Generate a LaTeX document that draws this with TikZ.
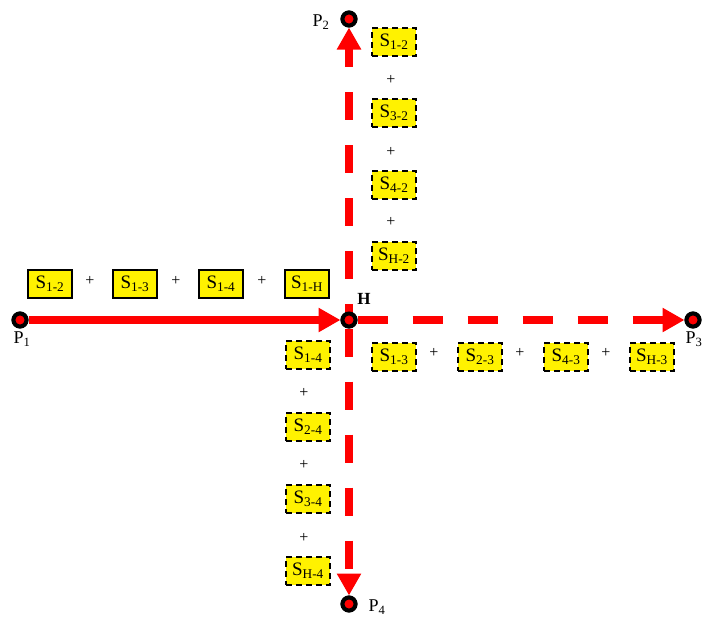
\documentclass[tikz,border=0pt]{standalone}
\usepackage{fontspec}
\setmainfont{Liberation Serif}
\usetikzlibrary{arrows.meta}
\tikzset{
  pt/.style={circle, draw=black, fill=red, line width=4pt, minimum size=13pt, inner sep=0pt},
  term/.style={draw=black, fill=yellow, line width=2.2pt, minimum width=44pt, minimum height=28pt, inner sep=0pt, font=\fontsize{19}{19}\selectfont},
  termd/.style={term, dash pattern=on 6pt off 4pt},
  plus/.style={inner sep=0pt, font=\fontsize{16}{16}\selectfont},
  lbl/.style={inner sep=0pt, font=\fontsize{18}{18}\selectfont},
  flow/.style={red, line width=7.5pt, -{Triangle[length=22pt, width=23pt]}},
  flowh/.style={flow, dash pattern=on 30pt off 25pt},
  flowv/.style={flow, dash pattern=on 28pt off 25pt},
}
\newcommand{\Sx}[1]{S\textsubscript{#1}}
\begin{document}
\begin{tikzpicture}[x=1pt, y=-1pt]
\path[use as bounding box, fill=white] (0,0) rectangle (702,619);

% junction and end points
\node[pt] (H)  at (349,320) {};
\node[pt] (P1) at (20,320) {};
\node[pt] (P2) at (349,19) {};
\node[pt] (P3) at (693,320) {};
\node[pt] (P4) at (349,604) {};

% flows
\draw[flow]  (P1) -- (H);
\draw[flowv, dash phase=20pt] (H) -- (P2);
\draw[flowh] (H) -- (P3);
\draw[flowv] (H) -- (P4);

% points again, on top of the shafts
\foreach \p in {H,P1,P2,P3,P4} \node[pt] at (\p) {};

% point labels
\node[lbl] (lP1) at (22,339) {P\textsubscript{1}};
\node[lbl] (lP2) at (321,22) {P\textsubscript{2}};
\node[lbl] (lP3) at (694,339) {P\textsubscript{3}};
\node[lbl] (lP4) at (377,607) {P\textsubscript{4}};
\node[lbl, font=\fontsize{17}{17}\selectfont\bfseries] (lH) at (364,299) {H};

% incoming terms along P1 -> H
\node[term] (a1) at (50,284)  {\Sx{1-2}};
\node[plus] (ap1) at (90,281) {+};
\node[term] (a2) at (135,284) {\Sx{1-3}};
\node[plus] (ap2) at (176,281) {+};
\node[term] (a3) at (221,284) {\Sx{1-4}};
\node[plus] (ap3) at (262,281) {+};
\node[term] (a4) at (307,284) {\Sx{1-H}};

% terms along H -> P2
\node[termd] (b1) at (394,42)  {\Sx{1-2}};
\node[plus]  (bp1) at (391,80) {+};
\node[termd] (b2) at (394,113) {\Sx{3-2}};
\node[plus]  (bp2) at (391,152) {+};
\node[termd] (b3) at (394,185) {\Sx{4-2}};
\node[plus]  (bp3) at (391,222) {+};
\node[termd] (b4) at (394,256) {\Sx{H-2}};

% terms along H -> P3
\node[termd] (c1) at (394,357) {\Sx{1-3}};
\node[plus]  (cp1) at (434,353) {+};
\node[termd] (c2) at (480,357) {\Sx{2-3}};
\node[plus]  (cp2) at (520,353) {+};
\node[termd] (c3) at (566,357) {\Sx{4-3}};
\node[plus]  (cp3) at (606,353) {+};
\node[termd] (c4) at (652,357) {\Sx{H-3}};

% terms along H -> P4
\node[termd] (d1) at (308,355) {\Sx{1-4}};
\node[plus]  (dp1) at (304,393) {+};
\node[termd] (d2) at (308,427) {\Sx{2-4}};
\node[plus]  (dp2) at (304,465) {+};
\node[termd] (d3) at (308,499) {\Sx{3-4}};
\node[plus]  (dp3) at (304,538) {+};
\node[termd] (d4) at (308,571) {\Sx{H-4}};
\end{tikzpicture}
\end{document}
